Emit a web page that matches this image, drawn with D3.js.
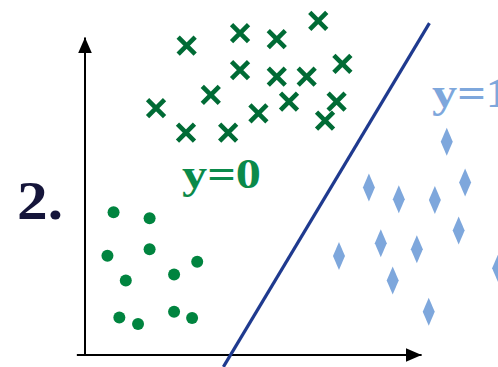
<!DOCTYPE html>
<html>
<head>
<meta charset="utf-8">
<script src="https://cdn.jsdelivr.net/npm/d3@7/dist/d3.min.js"></script>
<style>
  html, body { margin: 0; padding: 0; background: #fff; overflow: hidden; }
  svg { display: block; }
</style>
</head>
<body>
<svg id="chart" width="498" height="367"></svg>
<script>
// Class y=0, crosses (x1, x2)
const crossX = [2.99, 4.56, 5.64, 6.86, 4.56, 5.64, 6.52, 7.57, 3.70, 2.09, 2.97, 4.21, 5.10, 6.00, 7.40, 7.06];
const crossY = [9.10, 9.47, 9.29, 9.83, 8.38, 8.19, 8.19, 8.56, 7.65, 7.26, 6.54, 6.54, 7.11, 7.45, 7.45, 6.89];

// Class y=0, dots
const dotX = [0.84, 1.90, 0.66, 1.90, 1.20, 2.62, 3.30, 1.01, 1.56, 2.62, 3.15];
const dotY = [4.20, 4.02, 2.92, 3.11, 2.19, 2.37, 2.74, 1.10, 0.91, 1.27, 1.09];

// Class y=1, diamonds
const diamondX = [10.64, 8.35, 9.23, 10.29, 11.18, 10.99, 8.70, 9.76, 7.47, 9.05, 10.11, 12.15];
const diamondY = [6.27, 4.93, 4.58, 4.56, 5.07, 3.66, 3.29, 3.11, 2.91, 2.19, 1.27, 2.55];

// Decision boundary end points
const boundaryX = [10.13, 4.07];
const boundaryY = [9.76, -0.35];

// Axis extents
const xAxisRange = [-0.24, 9.9];
const yAxisRange = [0, 9.34];

// Labels
const classLabels = ["y=0", "y=1"];
const panelLabel = "2.";

const svg = d3.select("#chart");
const x = d3.scaleLinear().domain([0, 10]).range([85, 425]);
const y = d3.scaleLinear().domain([0, 10]).range([355, 15]);

const green = "#006b35";
const dotGreen = "#00843f";
const blue = "#7ea7dc";
const navy = "#1f3a8f";

// arrowheads
const defs = svg.append("defs");
defs.append("marker")
  .attr("id", "arrow")
  .attr("viewBox", "0 0 16 14")
  .attr("refX", 16).attr("refY", 7)
  .attr("markerWidth", 16).attr("markerHeight", 14)
  .attr("markerUnits", "userSpaceOnUse")
  .attr("orient", "auto")
  .append("path")
  .attr("d", "M0,0 L16,7 L0,14 Z")
  .attr("fill", "#000");

// axes
svg.append("line")
  .attr("x1", x(xAxisRange[0])).attr("y1", y(0))
  .attr("x2", x(xAxisRange[1])).attr("y2", y(0))
  .attr("stroke", "#000").attr("stroke-width", 2)
  .attr("marker-end", "url(#arrow)");
svg.append("line")
  .attr("x1", x(0)).attr("y1", y(yAxisRange[0]))
  .attr("x2", x(0)).attr("y2", y(yAxisRange[1]))
  .attr("stroke", "#000").attr("stroke-width", 2)
  .attr("marker-end", "url(#arrow)");

// dots
svg.append("g").selectAll("circle")
  .data(dotX.map((d, i) => [d, dotY[i]]))
  .join("circle")
  .attr("cx", d => x(d[0])).attr("cy", d => y(d[1]))
  .attr("r", 6)
  .attr("fill", dotGreen);

// crosses
const arm = 8.5;
svg.append("g").selectAll("path")
  .data(crossX.map((d, i) => [d, crossY[i]]))
  .join("path")
  .attr("d", d => {
    const cx = x(d[0]), cy = y(d[1]);
    return `M${cx - arm},${cy - arm}L${cx + arm},${cy + arm}M${cx - arm},${cy + arm}L${cx + arm},${cy - arm}`;
  })
  .attr("stroke", green).attr("stroke-width", 4.6)
  .attr("fill", "none");

// diamonds
svg.append("g").selectAll("path")
  .data(diamondX.map((d, i) => [d, diamondY[i]]))
  .join("path")
  .attr("d", d => {
    const cx = x(d[0]), cy = y(d[1]);
    return `M${cx},${cy - 14}L${cx + 6},${cy}L${cx},${cy + 14}L${cx - 6},${cy}Z`;
  })
  .attr("fill", blue);

// boundary
svg.append("line")
  .attr("x1", x(boundaryX[0])).attr("y1", y(boundaryY[0]))
  .attr("x2", x(boundaryX[1])).attr("y2", y(boundaryY[1]))
  .attr("stroke", navy).attr("stroke-width", 3.2);

// text
const serif = "'Liberation Serif', 'Times New Roman', serif";
svg.append("text")
  .attr("x", 182).attr("y", 188)
  .attr("font-family", serif).attr("font-weight", "bold")
  .attr("font-size", 43)
  .attr("textLength", 79).attr("lengthAdjust", "spacingAndGlyphs")
  .attr("fill", "#0a8a4a")
  .text(classLabels[0]);
// the y=1 label runs past the right edge of the panel
svg.append("text")
  .attr("x", 432).attr("y", 107)
  .attr("font-family", serif).attr("font-weight", "bold")
  .attr("font-size", 43)
  .attr("textLength", 79).attr("lengthAdjust", "spacingAndGlyphs")
  .attr("fill", blue)
  .text(classLabels[1]);
svg.append("text")
  .attr("x", 17).attr("y", 219)
  .attr("font-family", serif).attr("font-weight", "bold")
  .attr("font-size", 54)
  .attr("textLength", 46).attr("lengthAdjust", "spacingAndGlyphs")
  .attr("fill", "#15153a")
  .text(panelLabel);
</script>
</body>
</html>
